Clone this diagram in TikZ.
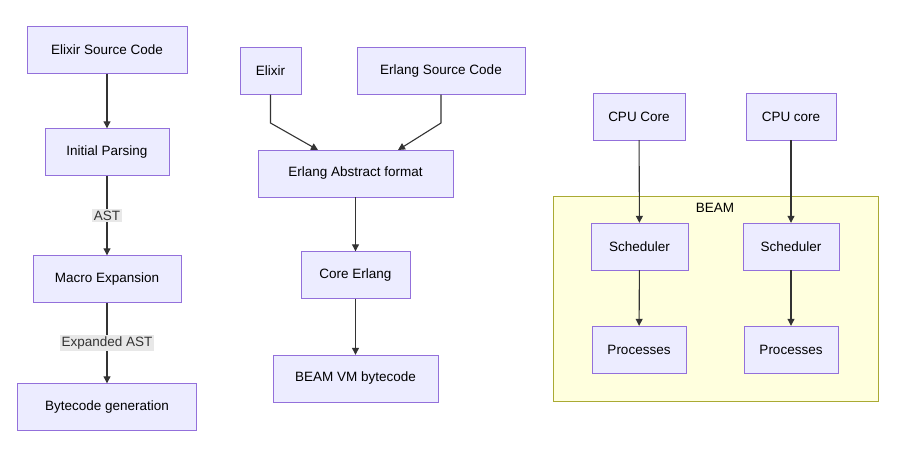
\documentclass[tikz,border=0pt]{standalone}
\usepackage{fontspec}
\setmainfont{Liberation Sans}
\usetikzlibrary{arrows.meta,positioning}
\definecolor{boxfill}{HTML}{ECECFF}
\definecolor{boxline}{HTML}{9370DB}
\definecolor{clusterfill}{HTML}{FFFFDE}
\definecolor{clusterline}{HTML}{AAAA33}
\definecolor{labelfill}{HTML}{E8E8E8}
\definecolor{edgeline}{HTML}{333333}
\begin{document}
\begin{tikzpicture}[
			x=1pt, y=-1pt,
			box/.style={rectangle, draw=boxline, fill=boxfill, minimum height=47pt, inner xsep=0pt, font=\fontsize{13.5}{16}\selectfont},
			edgelabel/.style={fill=labelfill, inner sep=1.5pt, font=\fontsize{13.5}{16}\selectfont},
			arrow/.style={-{Triangle[length=7pt,width=7pt]}, edgeline, line width=1.1pt}
			]
			\useasboundingbox (0,0) rectangle (915,465);
			
			% Cluster
			\node[rectangle, draw=clusterline, fill=clusterfill, minimum width=325pt, minimum height=205pt] (beam) at (715.5,298.5) {};
			\node[font=\fontsize{13.5}{16}\selectfont] (beamlabel) at (715,208) {BEAM};
			
			% Left column
			\node[box, minimum width=160pt] (src) at (107,50) {Elixir Source Code};
			\node[box, minimum width=124pt] (parse) at (107,152) {Initial Parsing};
			\node[box, minimum width=148pt] (macro) at (107,279) {Macro Expansion};
			\node[box, minimum width=179pt] (gen) at (107,407) {Bytecode generation};
			
			\draw[arrow] (src) -- (parse);
			\draw[arrow] (parse) -- node[edgelabel]{AST} (macro);
			\draw[arrow] (macro) -- node[edgelabel]{Expanded AST} (gen);
			
			% Middle column
			\node[box, minimum width=61pt] (elixir) at (270.5,71) {Elixir};
			\node[box, minimum width=168pt] (erlsrc) at (441,71) {Erlang Source Code};
			\node[box, minimum width=195pt] (abstract) at (355.5,173.5) {Erlang Abstract format};
			\node[box, minimum width=109pt] (core) at (355.5,275) {Core Erlang};
			\node[box, minimum width=165pt] (bytecode) at (355.5,378.5) {BEAM VM bytecode};
			
			\coordinate (bendA) at (270.5,123);
			\coordinate (bendB) at (441,123);
			\draw[arrow] (elixir) -- (bendA) -- (318,150);
			\draw[arrow] (erlsrc) -- (bendB) -- (398,150);
			\draw[arrow] (abstract) -- (core);
			\draw[arrow] (core) -- (bytecode);
			
			% Right column
			\node[box, minimum width=92pt] (cpuA) at (639,116.5) {CPU Core};
			\node[box, minimum width=90pt] (cpuB) at (791,116.5) {CPU core};
			\node[box, minimum width=97pt] (schedA) at (639.5,246.5) {Scheduler};
			\node[box, minimum width=96pt] (schedB) at (791,246.5) {Scheduler};
			\node[box, minimum width=94pt] (procA) at (639,349.5) {Processes};
			\node[box, minimum width=94pt] (procB) at (791,349.5) {Processes};
			
			\draw[arrow] (cpuA) -- (schedA);
			\draw[arrow] (cpuB) -- (schedB);
			\draw[arrow] (schedA) -- (procA);
			\draw[arrow] (schedB) -- (procB);
			
		\end{tikzpicture}
\end{document}
